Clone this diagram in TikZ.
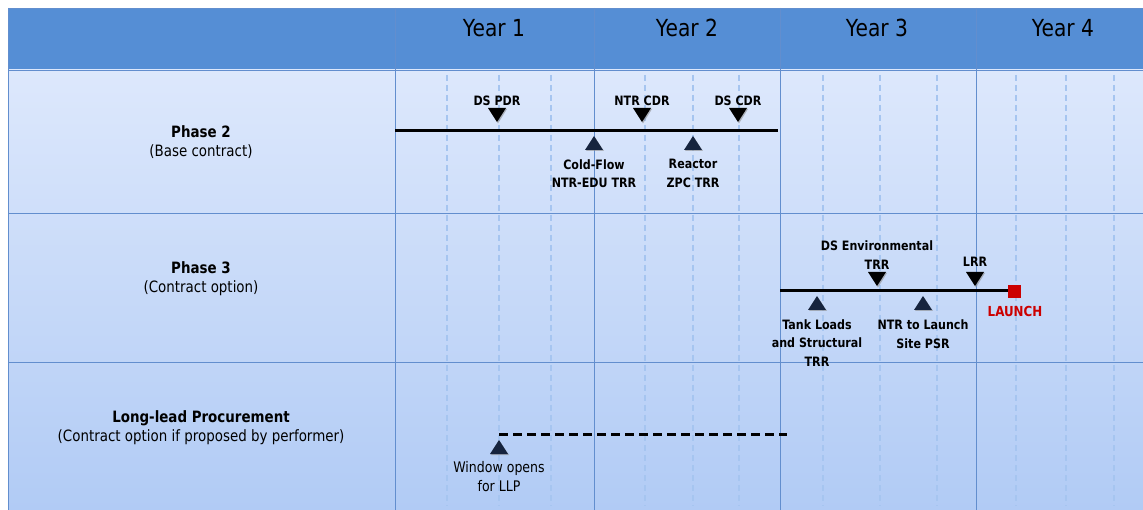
\documentclass[tikz,border=0pt]{standalone}
\usepackage{fontspec}
\setmainfont{DejaVu Sans}[FakeStretch=0.86]
\definecolor{hdr}{RGB}{85,142,213}
\definecolor{rowtop}{RGB}{221,232,252}
\definecolor{rowbot}{RGB}{177,203,245}
\definecolor{gridc}{RGB}{98,142,206}
\definecolor{dgridc}{RGB}{166,197,240}
\definecolor{navy}{RGB}{22,36,62}
\definecolor{launchred}{RGB}{204,0,0}
\tikzset{
  gridline/.style={draw=gridc, line width=0.9pt},
  dgridline/.style={draw=dgridc, line width=1.8pt, dash pattern=on 6pt off 4pt},
  bar/.style={draw=black, line width=3pt},
  dbar/.style={draw=black, line width=3pt, dash pattern=on 9pt off 5pt},
  yearlab/.style={font=\fontsize{23.5}{26}\selectfont, inner sep=0},
  rowlab/.style={font=\fontsize{15.6}{19}\selectfont, align=center, inner sep=0},
  mslab/.style={font=\fontsize{12.9}{18.5}\selectfont\bfseries, align=center, inner sep=0},
  mslabr/.style={font=\fontsize{14.6}{19}\selectfont, align=center, inner sep=0},
  pics/msdown/.style={code={
    \fill[black!45, opacity=0.6] (-8,-6) -- (10,-6) -- (1,8.5) -- cycle;
    \fill[black] (-9,-7) -- (9,-7) -- (0,7) -- cycle;}},
  pics/msup/.style={code={
    \fill[black!45, opacity=0.6] (1,-5.5) -- (10,8) -- (-8,8) -- cycle;
    \fill[navy] (0,-7) -- (9,7) -- (-9,7) -- cycle;}},
}
\begin{document}
\begin{tikzpicture}[x=1pt,y=-1pt]
\useasboundingbox (0,0) rectangle (1143,510);
\fill[white] (0,0) rectangle (1143,510);
% background
\fill[hdr] (8,8) rectangle (1143,70);
\shade[top color=rowtop, bottom color=rowbot] (8,70) rectangle (1143,510);
% dashed quarter lines
\foreach \x in {447,499,551,645,693,739,823,880,937,1016,1066,1114}
  \draw[dgridline] (\x,75) -- (\x,506);
% solid grid
\foreach \yy in {8,70,213,362}
  \draw[gridline] (8,\yy) -- (1143,\yy);
\foreach \x in {8,395,594,780,976}
  \draw[gridline] (\x,8) -- (\x,510);
% header
\node[yearlab] (y1) at (494,28) {Year 1};
\node[yearlab] (y2) at (687,28) {Year 2};
\node[yearlab] (y3) at (877,28) {Year 3};
\node[yearlab] (y4) at (1063,28) {Year 4};
% row labels
\node[rowlab] (r1) at (201,142) {\textbf{Phase 2}\\(Base contract)};
\node[rowlab] (r2) at (201,279) {\textbf{Phase 3}\\(Contract option)};
\node[rowlab] (r3) at (201,428) {\textbf{Long-lead Procurement}\\(Contract option if proposed by performer)};
% Phase 2 bar
\coordinate (p2s) at (395,131);
\coordinate (p2e) at (778,131);
\draw[bar] (p2s) -- (p2e);
\pic at (497,115) {msdown};
\pic at (642,115) {msdown};
\pic at (738,115) {msdown};
\node[mslab] (dspdr) at (497,101) {DS PDR};
\node[mslab] (ntrcdr) at (642,101) {NTR CDR};
\node[mslab] (dscdr) at (738,101) {DS CDR};
\pic at (594,143) {msup};
\pic at (693,143) {msup};
\node[mslab] (cold) at (594,173.5) {Cold-Flow\\NTR-EDU TRR};
\node[mslab] (reac) at (693,173.5) {Reactor\\ZPC TRR};
% Phase 3 bar
\coordinate (p3s) at (780,291);
\node[draw=launchred, fill=launchred, minimum size=12pt, inner sep=0] (launch) at (1014,291) {};
\draw[bar] (p3s) -- (launch.west);
\pic at (877,279) {msdown};
\pic at (975,279) {msdown};
\node[mslab] (dsenv) at (877,255) {DS Environmental\\TRR};
\node[mslab] (lrr) at (975,262) {LRR};
\pic at (817,303) {msup};
\pic at (923,303) {msup};
\node[mslab] (tank) at (817,343) {Tank Loads\\and Structural\\TRR};
\node[mslab] (ntrls) at (923,334) {NTR to Launch\\Site PSR};
\node[mslab, text=launchred, font=\fontsize{13.8}{18}\selectfont\bfseries] (launchlab) at (1015,311) {LAUNCH};
% LLP
\coordinate (llps) at (499,434);
\coordinate (llpe) at (787,434);
\draw[dbar] (llps) -- (llpe);
\pic at (499,447) {msup};
\node[mslabr] (win) at (499,476.5) {Window opens\\for LLP};
\end{tikzpicture}
\end{document}
